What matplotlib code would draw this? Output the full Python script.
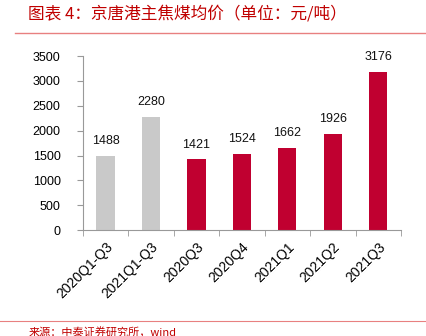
import matplotlib
matplotlib.use("Agg")
import matplotlib.pyplot as plt
from matplotlib.lines import Line2D

plt.rcParams['font.family'] = ['Liberation Sans', 'Noto Sans CJK SC', 'DejaVu Sans']

categories = ["2020Q1-Q3", "2021Q1-Q3", "2020Q3", "2020Q4", "2021Q1", "2021Q2", "2021Q3"]
prices = [1488, 2280, 1421, 1524, 1662, 1926, 3176]
bar_colors = ["#C9C9C9", "#C9C9C9", "#C00030", "#C00030", "#C00030", "#C00030", "#C00030"]
y_ticks = [0, 500, 1000, 1500, 2000, 2500, 3000, 3500]

title_text = "图表 4：京唐港主焦煤均价（单位：元/吨）"
source_text = "来源：中泰证券研究所，wind"

fig = plt.figure(figsize=(4.27, 3.36), dpi=100)
ax = fig.add_axes([0.194, 0.315, 0.745, 0.518])

x = list(range(len(categories)))
ax.bar(x, prices, width=0.4, color=bar_colors, zorder=2)
for xi, v in zip(x, prices):
    ax.text(xi, v + 180, str(v), ha="center", va="bottom", fontsize=9, color="#111111")

ax.set_xlim(-0.5, len(categories) - 0.5)
ax.set_ylim(0, 3500)
ax.set_yticks(y_ticks)
ax.set_yticklabels([str(t) for t in y_ticks], fontsize=9)

ax.set_xticks(x)
ax.set_xticklabels(categories, rotation=45, ha="right", rotation_mode="anchor", fontsize=10)
ax.tick_params(axis="x", length=0, pad=7)
ax.set_xticks([i - 0.5 for i in range(len(categories) + 1)], minor=True)
ax.tick_params(axis="x", which="minor", length=4, color="#999999", direction="out")
ax.tick_params(axis="y", length=4, color="#999999", direction="out", pad=12)

for side in ("top", "right"):
    ax.spines[side].set_visible(False)
for side in ("left", "bottom"):
    ax.spines[side].set_color("#999999")
    ax.spines[side].set_linewidth(0.8)

fig.text(0.066, 0.958, title_text, fontsize=12, color="#C00000",
         family=["Noto Sans CJK SC"], style="italic", va="center")
fig.add_artist(Line2D([0.035, 1.0], [0.902, 0.902], transform=fig.transFigure,
                      color="#E88080", linewidth=1.0))
fig.add_artist(Line2D([0.0, 1.0], [0.045, 0.045], transform=fig.transFigure,
                      color="#E88080", linewidth=0.8))
fig.text(0.066, 0.012, source_text, fontsize=8, color="#C00000",
         family=["Noto Sans CJK SC", "DejaVu Sans"], va="center")

fig.savefig("out.png", dpi=100)
